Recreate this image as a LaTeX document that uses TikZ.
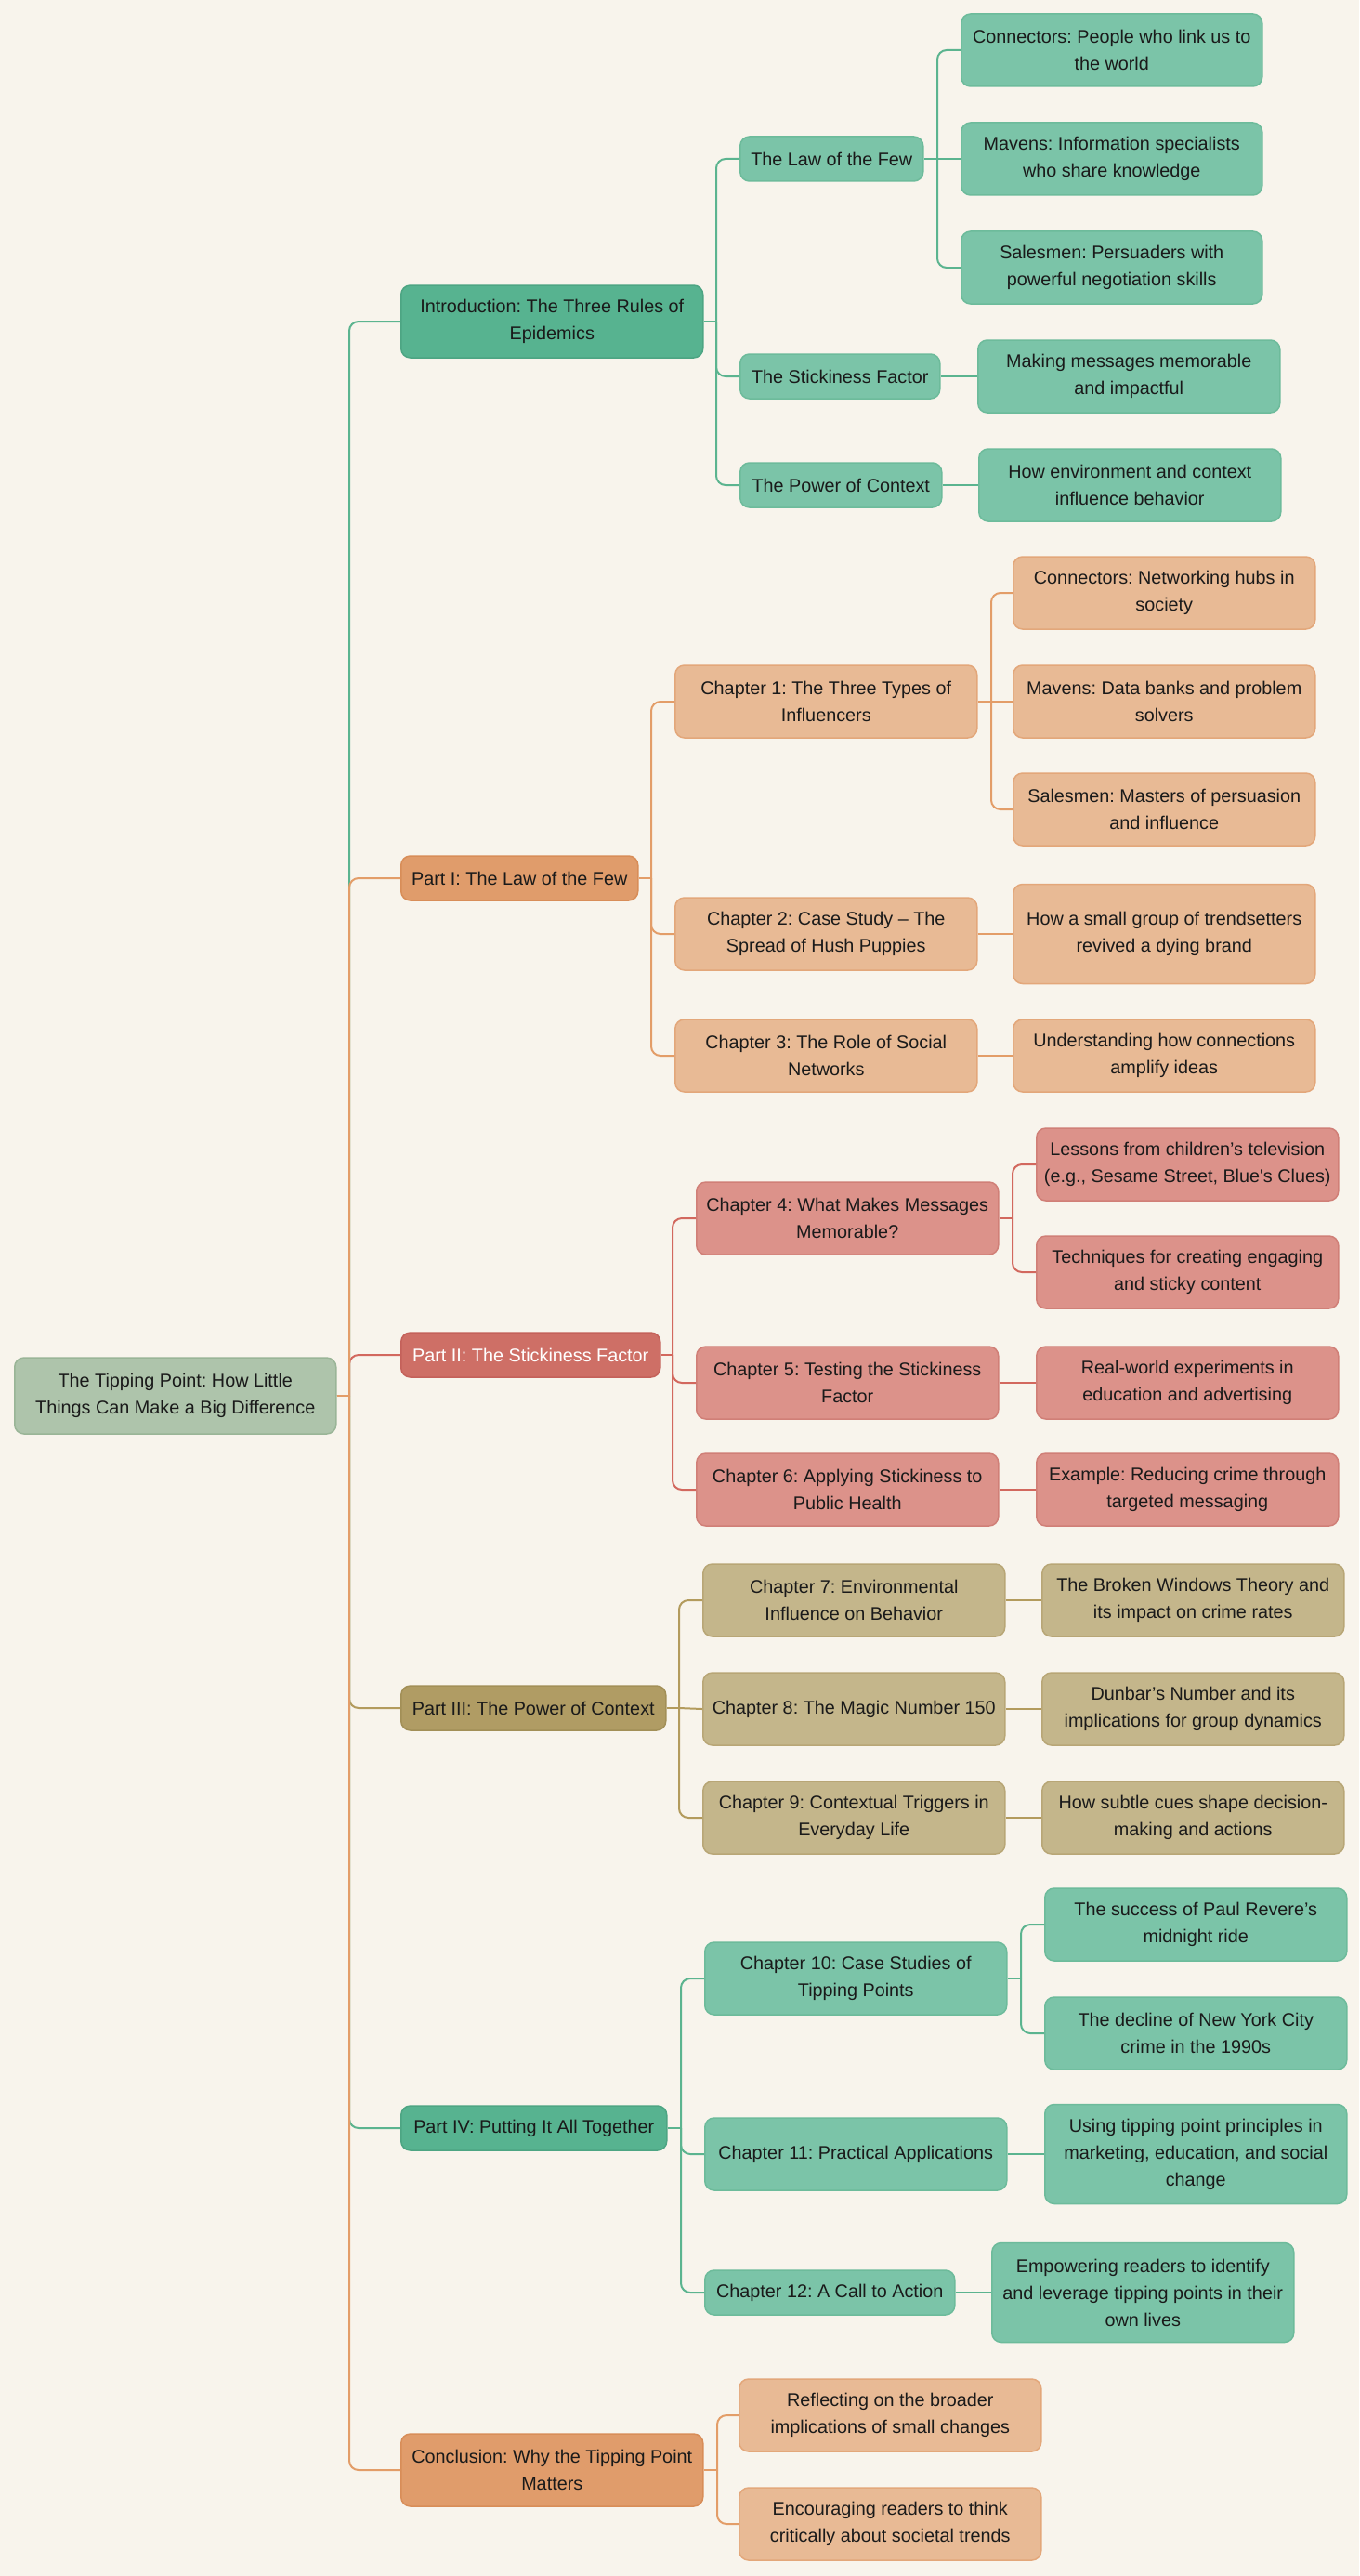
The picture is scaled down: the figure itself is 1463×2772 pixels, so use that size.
\documentclass[tikz,border=0pt]{standalone}
\usepackage{fontspec}
\setmainfont{Liberation Sans}[Ligatures=TeXOff]
\frenchspacing
\definecolor{bg}{HTML}{F8F4EC}
\definecolor{txt}{HTML}{1A1A1A}
\definecolor{rootF}{HTML}{AEC4AB}\definecolor{rootD}{HTML}{9AB597}
\definecolor{gDF}{HTML}{57B390}\definecolor{gDD}{HTML}{4DA583}
\definecolor{gLF}{HTML}{7BC4A8}\definecolor{gLD}{HTML}{6DBB9B}
\definecolor{gE}{HTML}{5BB48F}
\definecolor{oDF}{HTML}{E09C6B}\definecolor{oDD}{HTML}{D88D58}
\definecolor{oLF}{HTML}{E8BA95}\definecolor{oLD}{HTML}{E3A77A}
\definecolor{oE}{HTML}{E39D68}
\definecolor{rDF}{HTML}{CE6F66}\definecolor{rDD}{HTML}{C4615A}
\definecolor{rLF}{HTML}{DC928A}\definecolor{rLD}{HTML}{D07F77}
\definecolor{rE}{HTML}{D2685E}
\definecolor{yDF}{HTML}{B09C64}\definecolor{yDD}{HTML}{A28F57}
\definecolor{yLF}{HTML}{C4B68B}\definecolor{yLD}{HTML}{B8A676}
\definecolor{yE}{HTML}{B39B5D}
\begin{document}
\begin{tikzpicture}[x=0.5pt,y=-0.5pt,
  box/.style={rectangle,rounded corners=5pt,line width=0.75pt,inner sep=0pt,
    align=center,anchor=west,text=txt,font=\fontsize{9.9}{14.5}\selectfont},
  sz/.style 2 args={minimum width=#1*0.5pt,minimum height=#2*0.5pt},
  rootbox/.style={box,fill=rootF,draw=rootD},
  gD/.style={box,fill=gDF,draw=gDD}, gL/.style={box,fill=gLF,draw=gLD},
  oD/.style={box,fill=oDF,draw=oDD}, oL/.style={box,fill=oLF,draw=oLD},
  rD/.style={box,fill=rDF,draw=rDD,text=white}, rL/.style={box,fill=rLF,draw=rLD},
  yD/.style={box,fill=yDF,draw=yDD}, yL/.style={box,fill=yLF,draw=yLD},
  edge/.style={line width=1pt},
  gEdge/.style={edge,draw=gE}, oEdge/.style={edge,draw=oE},
  rEdge/.style={edge,draw=rE}, yEdge/.style={edge,draw=yE},
  turn/.style={rounded corners=5pt}]
\fill[bg] (0,0) rectangle (1463,2772);
\useasboundingbox (0,0) rectangle (1463,2772);
% connector columns
\coordinate (mT) at (376,0);
\coordinate (mI) at (771,0);
\coordinate (mLF) at (1009,0);
\coordinate (m1) at (701,0);
\coordinate (mC1) at (1067,0);
\coordinate (m2) at (724,0);
\coordinate (mC4) at (1090,0);
\coordinate (m3) at (731,0);
\coordinate (m4) at (733,0);
\coordinate (mC10) at (1099,0);
\coordinate (mC) at (772,0);
% nodes
\node[rootbox,sz={346}{82}] (root) at (15,1502) {The Tipping Point: How Little\\Things Can Make a Big Difference};
% Introduction
\node[gD,sz={325}{78}] (intro) at (431,346) {Introduction: The Three Rules of\\Epidemics};
\node[gL,sz={197}{48}] (lof) at (796,171) {The Law of the Few};
\node[gL,sz={215}{48}] (stick) at (796,405) {The Stickiness Factor};
\node[gL,sz={217}{48}] (power) at (796,522) {The Power of Context};
\node[gL,sz={324}{78}] (conn) at (1034,54) {Connectors: People who link us to\\the world};
\node[gL,sz={324}{78}] (mav) at (1034,171) {Mavens: Information specialists\\who share knowledge};
\node[gL,sz={324}{78}] (sales) at (1034,288) {Salesmen: Persuaders with\\powerful negotiation skills};
\node[gL,sz={325}{78}] (making) at (1052,405) {Making messages memorable\\and impactful};
\node[gL,sz={325}{78}] (howenv) at (1053,522) {How environment and context\\influence behavior};
% Part I
\node[oD,sz={255}{48}] (p1) at (431,945) {Part I: The Law of the Few};
\node[oL,sz={325}{78}] (ch1) at (726,755) {Chapter 1: The Three Types of\\Influencers};
\node[oL,sz={325}{78}] (ch2) at (726,1005) {Chapter 2: Case Study – The\\Spread of Hush Puppies};
\node[oL,sz={325}{78}] (ch3) at (726,1136) {Chapter 3: The Role of Social\\Networks};
\node[oL,sz={325}{78}] (c1a) at (1090,638) {Connectors: Networking hubs in\\society};
\node[oL,sz={325}{78}] (c1b) at (1090,755) {Mavens: Data banks and problem\\solvers};
\node[oL,sz={325}{78}] (c1c) at (1090,871) {Salesmen: Masters of persuasion\\and influence};
\node[oL,sz={325}{107}] (c2a) at (1090,1005) {How a small group of trendsetters\\revived a dying brand};
\node[oL,sz={325}{78}] (c3a) at (1090,1136) {Understanding how connections\\amplify ideas};
% Part II
\node[rD,sz={279}{48}] (p2) at (431,1458) {Part II: The Stickiness Factor};
\node[rL,sz={325}{78}] (ch4) at (749,1311) {Chapter 4: What Makes Messages\\Memorable?};
\node[rL,sz={325}{78}] (ch5) at (749,1488) {Chapter 5: Testing the Stickiness\\Factor};
\node[rL,sz={325}{78}] (ch6) at (749,1603) {Chapter 6: Applying Stickiness to\\Public Health};
\node[rL,sz={325}{78}] (c4a) at (1115,1253) {Lessons from children’s television\\(e.g., Sesame Street, Blue's Clues)};
\node[rL,sz={325}{78}] (c4b) at (1115,1369) {Techniques for creating engaging\\and sticky content};
\node[rL,sz={325}{78}] (c5a) at (1115,1488) {Real-world experiments in\\education and advertising};
\node[rL,sz={325}{78}] (c6a) at (1115,1603) {Example: Reducing crime through\\targeted messaging};
% Part III
\node[yD,sz={285}{48}] (p3) at (431,1838) {Part III: The Power of Context};
\node[yL,sz={325}{78}] (ch7) at (756,1722) {Chapter 7: Environmental\\Influence on Behavior};
\node[yL,sz={325}{78}] (ch8) at (756,1839) {Chapter 8: The Magic Number 150};
\node[yL,sz={325}{78}] (ch9) at (756,1956) {Chapter 9: Contextual Triggers in\\Everyday Life};
\node[yL,sz={325}{78}] (c7a) at (1121,1722) {The Broken Windows Theory and\\its impact on crime rates};
\node[yL,sz={325}{78}] (c8a) at (1121,1839) {Dunbar’s Number and its\\implications for group dynamics};
\node[yL,sz={325}{78}] (c9a) at (1121,1956) {How subtle cues shape decision-\\making and actions};
% Part IV
\node[gD,sz={286}{48}] (p4) at (431,2290) {Part IV: Putting It All Together};
\node[gL,sz={325}{78}] (ch10) at (758,2129) {Chapter 10: Case Studies of\\Tipping Points};
\node[gL,sz={325}{78}] (ch11) at (758,2318) {Chapter 11: Practical Applications};
\node[gL,sz={269}{48}] (ch12) at (758,2467) {Chapter 12: A Call to Action};
\node[gL,sz={325}{78}] (c10a) at (1124,2071) {The success of Paul Revere’s\\midnight ride};
\node[gL,sz={325}{78}] (c10b) at (1124,2188) {The decline of New York City\\crime in the 1990s};
\node[gL,sz={325}{107}] (c11a) at (1124,2318) {Using tipping point principles in\\marketing, education, and social\\change};
\node[gL,sz={325}{107}] (c12a) at (1067,2467) {Empowering readers to identify\\and leverage tipping points in their\\own lives};
% Conclusion
\node[oD,sz={325}{78}] (concl) at (431,2658) {Conclusion: Why the Tipping Point\\Matters};
\node[oL,sz={325}{78}] (cla) at (795,2599) {Reflecting on the broader\\implications of small changes};
\node[oL,sz={325}{78}] (clb) at (795,2716) {Encouraging readers to think\\critically about societal trends};
% edges from root (stem sharp, turn rounded)
\foreach \c/\s in {intro/gEdge,p2/rEdge,p3/yEdge,p4/gEdge,p1/oEdge,concl/oEdge}{
  \draw[\s] (root.east) -- (root.east -| mT);
  \draw[\s,turn] (root.east -| mT) |- (\c.west);
}
% intro
\draw[gEdge] (intro.east) -- (intro.east -| mI);
\foreach \c in {lof,stick,power}
  \draw[gEdge,turn] (intro.east -| mI) |- (\c.west);
\draw[gEdge] (lof.east) -- (mav.west);
\foreach \c in {conn,sales}
  \draw[gEdge,turn] (lof.east -| mLF) |- (\c.west);
\draw[gEdge] (stick.east) -- (making.west);
\draw[gEdge] (power.east) -- (howenv.west);
% part I
\draw[oEdge] (p1.east) -- (p1.east -| m1);
\foreach \c in {ch1,ch2,ch3}
  \draw[oEdge,turn] (p1.east -| m1) |- (\c.west);
\draw[oEdge] (ch1.east) -- (c1b.west);
\foreach \c in {c1a,c1c}
  \draw[oEdge,turn] (ch1.east -| mC1) |- (\c.west);
\draw[oEdge] (ch2.east) -- (c2a.west);
\draw[oEdge] (ch3.east) -- (c3a.west);
% part II
\draw[rEdge] (p2.east) -- (p2.east -| m2);
\foreach \c in {ch4,ch5,ch6}
  \draw[rEdge,turn] (p2.east -| m2) |- (\c.west);
\draw[rEdge] (ch4.east) -- (ch4.east -| mC4);
\foreach \c in {c4a,c4b}
  \draw[rEdge,turn] (ch4.east -| mC4) |- (\c.west);
\draw[rEdge] (ch5.east) -- (c5a.west);
\draw[rEdge] (ch6.east) -- (c6a.west);
% part III
\draw[yEdge] (p3.east) -- (p3.east -| m3);
\foreach \c in {ch7,ch9}
  \draw[yEdge,turn] (p3.east -| m3) |- (\c.west);
\draw[yEdge] (p3.east -| m3) -- (ch8.west);
\draw[yEdge] (ch7.east) -- (c7a.west);
\draw[yEdge] (ch8.east) -- (c8a.west);
\draw[yEdge] (ch9.east) -- (c9a.west);
% part IV
\draw[gEdge] (p4.east) -- (p4.east -| m4);
\foreach \c in {ch10,ch11,ch12}
  \draw[gEdge,turn] (p4.east -| m4) |- (\c.west);
\draw[gEdge] (ch10.east) -- (ch10.east -| mC10);
\foreach \c in {c10a,c10b}
  \draw[gEdge,turn] (ch10.east -| mC10) |- (\c.west);
\draw[gEdge] (ch11.east) -- (c11a.west);
\draw[gEdge] (ch12.east) -- (c12a.west);
% conclusion
\draw[oEdge] (concl.east) -- (concl.east -| mC);
\foreach \c in {cla,clb}
  \draw[oEdge,turn] (concl.east -| mC) |- (\c.west);
\end{tikzpicture}
\end{document}
